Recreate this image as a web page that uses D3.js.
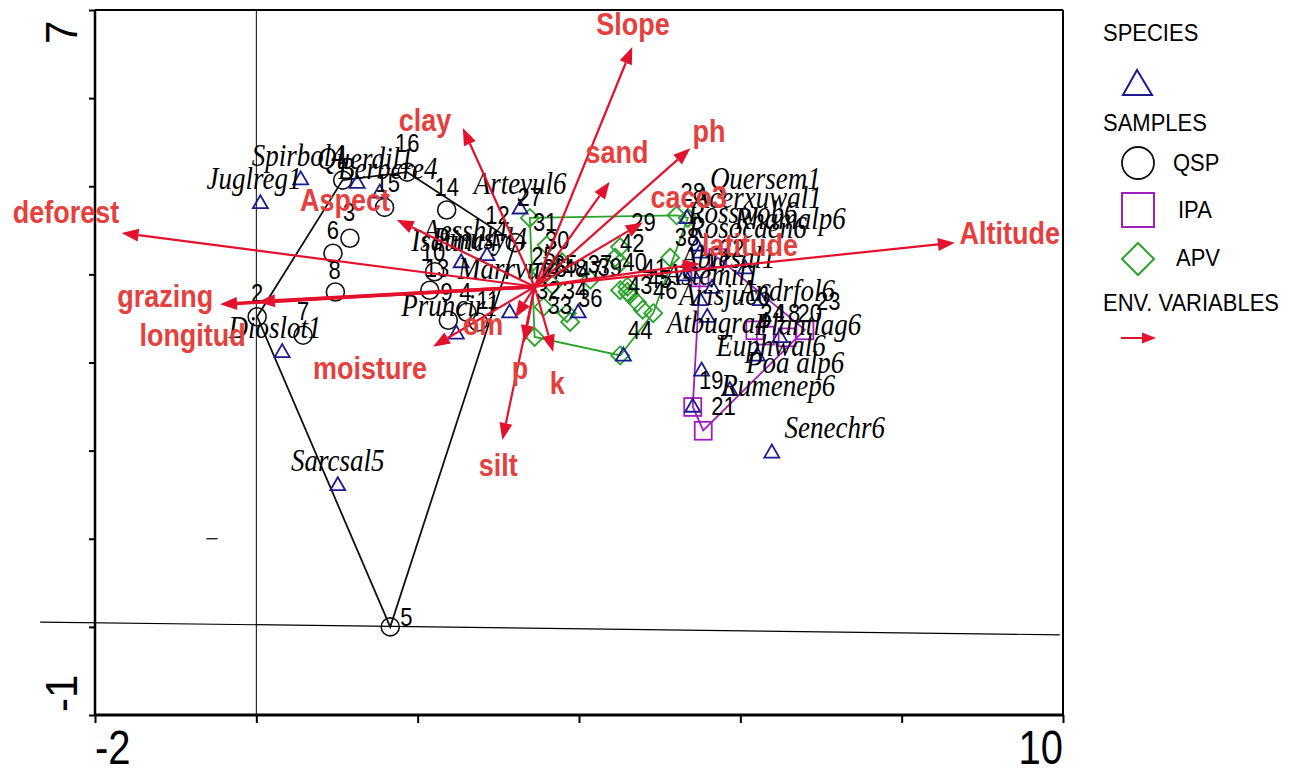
<!DOCTYPE html>
<html><head><meta charset="utf-8">
<script src="https://cdn.jsdelivr.net/npm/d3@7"></script>
<style>body{margin:0;background:#fff} svg{display:block}</style>
</head><body>
<svg id="c" width="1312" height="773"></svg>
<script>
// ---------- data ----------
const xTicks = [-2, 0, 2, 4, 6, 8, 10];
const yTicks = [-1, 0, 1, 2, 3, 4, 5, 6, 7];
const xTickLabels = ["-2", "10"];
const yTickLabels = ["-1", "7"];

const envOrigin = [3.45, 3.86];
const envNames  = ["Slope","clay","sand","ph","caco3","latitude","Altitude","deforest","Aspect","grazing","longitud","moisture","om","p","silt","k"];
const envX      = [4.66, 2.56, 4.38, 5.38, 4.79, 5.50, 8.66, -1.67, 1.74, -0.45, 0.02, 2.19, 3.21, 3.32, 3.05, 3.68];
const envY      = [6.58, 5.66, 5.05, 5.43, 4.59, 4.12, 4.36, 4.47, 4.62, 3.66, 3.69, 3.18, 3.51, 3.23, 2.12, 3.12];
const envLabelX = [4.67, 2.09, 4.47, 5.61, 5.36, 6.12, 9.34, -2.36, 1.10, -1.13, -0.79, 1.41, 2.81, 3.27, 3.00, 3.73];
const envLabelY = [6.84, 5.75, 5.39, 5.63, 4.87, 4.33, 4.47, 4.70, 4.84, 3.75, 3.31, 2.94, 3.43, 2.94, 1.84, 2.77];

const speciesNames  = ["Juglreg1","Spirbol4","Querdil1","Berbcre4","Dioslot1","Sarcsal5","Pruncir1","Aesshi4","Isatinc4","Pinusyl4","Marrvul4","Arteyul6","","Quersem1","Acerxuwal1","Rosswob6","Rosocaen6","Rhamalp6","Abiesal1","Astemil1","Arisjuc6","Andrfol6","Atbugra4","Plantlag6","Euphwal6","Poa alp6","Rumenep6","Senechr6",""];
const speciesX      = [0.05, 0.55, 1.25, 1.53, 0.32, 1.01, 2.48, 2.54, 2.86, 3.14, 3.99, 3.27, 4.55, 5.34, 5.46, 5.31, 5.50, 6.06, 5.65, 5.40, 5.50, 6.25, 5.59, 6.49, 6.21, 5.87, 5.52, 6.39, 5.41];
const speciesY      = [4.81, 5.08, 5.04, 4.93, 3.12, 1.61, 3.33, 4.14, 4.22, 3.57, 3.57, 4.75, 3.08, 4.64, 4.33, 3.99, 4.25, 4.07, 3.85, 4.02, 3.71, 3.71, 3.52, 3.29, 3.08, 2.69, 2.91, 1.98, 2.50];
const speciesLabelX = [-0.03, 0.52, 1.35, 1.63, 0.23, 1.01, 2.40, 2.59, 2.46, 2.77, 3.14, 3.27, null, 6.31, 6.21, 6.03, 6.09, 6.62, 5.85, 5.65, 5.81, 6.58, 5.72, 6.84, 6.38, 6.68, 6.47, 7.17, null];
const speciesLabelY = [5.09, 5.35, 5.32, 5.21, 3.40, 1.89, 3.65, 4.50, 4.39, 4.41, 4.07, 5.04, null, 5.09, 4.87, 4.71, 4.53, 4.64, 4.19, 4.00, 3.77, 3.82, 3.46, 3.43, 3.20, 3.00, 2.74, 2.26, null];

const groups = ["QSP", "IPA", "APV"];
const sampleLabels = ["1","2","3","4","5","6","7","8","9","10","11","12","13","14","15","16",
  "17","18","19","20","21","22","23","24",
  "25","26","27","28","29","30","31","32","33","34","35","36","37","38","39","40","41","42","43","44","45","46","47","48"];
const sampleGroup = ["QSP","QSP","QSP","QSP","QSP","QSP","QSP","QSP","QSP","QSP","QSP","QSP","QSP","QSP","QSP","QSP",
  "IPA","IPA","IPA","IPA","IPA","IPA","IPA","IPA",
  "APV","APV","APV","APV","APV","APV","APV","APV","APV","APV","APV","APV","APV","APV","APV","APV","APV","APV","APV","APV","APV","APV","APV","APV"];
const sampleX = [1.07, 0.01, 1.16, 2.61, 1.66, 0.95, 0.58, 0.98, 2.38, 2.21, 2.75, 3.21, 2.15, 2.36, 1.59, 1.87,
  5.50, 6.31, 5.41, 6.58, 5.54, 5.72, 6.80, 6.18,
  3.53, 3.67, 3.39, 5.35, 5.21, 3.79, 3.60, 3.56, 3.85, 3.89, 3.45, 4.14, 4.60, 5.13, 4.51, 4.45, 4.51, 4.51, 4.60, 4.51, 4.63, 4.72, 4.79, 4.92];
const sampleY = [5.07, 3.52, 4.41, 3.57, 0.00, 4.24, 3.31, 3.80, 3.48, 4.03, 3.46, 4.36, 3.82, 4.73, 4.76, 5.16,
  3.97, 3.31, 2.50, 3.29, 2.23, 4.19, 3.37, 3.37,
  4.03, 3.88, 4.64, 4.64, 4.67, 4.14, 4.33, 3.63, 3.56, 3.46, 3.29, 3.94, 3.80, 4.19, 3.82, 4.19, 4.13, 4.31, 3.86, 3.08, 3.77, 3.68, 3.60, 3.56];
const sampleLabelX = [1.07, 0.01, 1.15, 2.59, 1.86, 0.95, 0.58, 0.97, 2.36, 2.19, 2.87, 2.99, 2.24, 2.36, 1.63, 1.87,
  5.72, 6.59, 5.64, 6.86, 5.79, 5.90, 7.09, 6.40,
  3.56, 3.70, 3.39, 5.41, 4.80, 3.73, 3.58, 3.62, 3.76, 3.95, 3.83, 4.14, 4.26, 5.34, 4.38, 4.69, 4.94, 4.66, 4.76, 4.76, 5.00, 5.07, 4.14, 3.95];
const sampleLabelY = [5.35, 3.79, 4.70, 3.80, 0.11, 4.50, 3.58, 4.05, 3.80, 4.25, 3.71, 4.67, 4.07, 4.99, 5.04, 5.49,
  4.14, 3.56, 2.80, 3.56, 2.50, 4.30, 3.69, 3.56,
  4.21, 4.07, 4.87, 4.93, 4.59, 4.39, 4.59, 3.82, 3.65, 3.82, 4.11, 3.73, 4.11, 4.42, 4.08, 4.14, 4.07, 4.35, 3.88, 3.37, 3.94, 3.82, 4.05, 4.07];

// ---------- drawing ----------
const svg = d3.select("#c");
const X = d3.scaleLinear().domain([-2, 10]).range([95, 1063]);
const Y = d3.scaleLinear().domain([-1, 7]).range([715, 10]);

const C_TRI = "#1b1b8f", C_QSP = "#111", C_IPA = "#a01fba", C_APV = "#2aa32a";
const C_ARROW = "#e3112d", C_ELAB = "#e4403e";
const groupColor = {QSP: C_QSP, IPA: C_IPA, APV: C_APV};
const SANS = "'Liberation Sans', Arial, sans-serif";
const SERIF = "'Liberation Serif', 'Times New Roman', serif";
const STRETCH = 1.14; // the original's lettering is vertically tall

// text helper: centred, slightly stretched vertically
function label(parent, x, y, t, o) {
  const el = parent.append("text")
    .attr("transform", `translate(${x},${y}) scale(1,${o.sy ?? STRETCH})`)
    .attr("dy", o.dy ?? "0.35em")
    .attr("text-anchor", o.anchor || "middle")
    .attr("font-family", o.family || SANS)
    .attr("font-size", o.size)
    .attr("fill", o.fill || "#000")
    .text(t);
  if (o.italic) el.attr("font-style", "italic");
  if (o.bold) el.attr("font-weight", "bold");
  return el;
}

// zero lines
svg.append("line").attr("x1", X(0)).attr("x2", X(0)).attr("y1", Y(7)).attr("y2", Y(-1))
  .attr("stroke", "#000").attr("stroke-width", 1);
svg.append("line").attr("x1", X(-2.68)).attr("y1", Y(0.055)).attr("x2", X(9.96)).attr("y2", Y(-0.09))
  .attr("stroke", "#000").attr("stroke-width", 1.2);
svg.append("line").attr("x1", X(-0.62)).attr("x2", X(-0.48)).attr("y1", Y(1)).attr("y2", Y(1))
  .attr("stroke", "#000").attr("stroke-width", 1.2);

// axes
const gx = svg.append("g").attr("transform", `translate(0,${Y(-1)})`)
  .call(d3.axisBottom(X).tickValues(xTicks).tickSize(8).tickFormat(""));
gx.select(".domain").remove();
gx.selectAll(".tick line").attr("stroke", "#000").attr("stroke-width", 2);
const gy = svg.append("g").attr("transform", `translate(${X(-2)},0)`)
  .call(d3.axisLeft(Y).tickValues(yTicks).tickSize(6).tickFormat(""));
gy.select(".domain").remove();
gy.selectAll(".tick line").attr("stroke", "#000").attr("stroke-width", 2);

// frame
const frame = [[X(-2), Y(7), X(10), Y(7), 2], [X(10), Y(7), X(10), Y(-1), 2],
               [X(-2), Y(7), X(-2), Y(-1), 2.5], [X(-2), Y(-1), X(10), Y(-1), 3]];
frame.forEach(f => svg.append("line").attr("x1", f[0]).attr("y1", f[1]).attr("x2", f[2]).attr("y2", f[3])
  .attr("stroke", "#000").attr("stroke-width", f[4]));

// tick labels
label(svg, X(-2), 764, xTickLabels[0], {size: 40, anchor: "start", dy: 0, sy: 1.2});
label(svg, X(10), 764, xTickLabels[1], {size: 40, anchor: "end", dy: 0, sy: 1.2});
svg.append("text").attr("transform", `translate(77,${Y(-1) - 3}) rotate(-90) scale(1.05,1.1)`).attr("text-anchor", "start")
  .attr("font-family", SANS).attr("font-size", 40).text(yTickLabels[0]);
svg.append("text").attr("transform", `translate(77,${Y(7) + 34}) rotate(-90) scale(1.05,1.1)`).attr("text-anchor", "start")
  .attr("font-family", SANS).attr("font-size", 40).text(yTickLabels[1]);

// hulls
const samples = sampleLabels.map((l, i) => ({label: l, g: sampleGroup[i], x: sampleX[i], y: sampleY[i], lx: sampleLabelX[i], ly: sampleLabelY[i]}));
groups.forEach(g => {
  const pts = samples.filter(s => s.g === g).map(s => [X(s.x), Y(s.y)]);
  const hull = d3.polygonHull(pts);
  svg.append("path").attr("d", "M" + hull.join("L") + "Z")
    .attr("fill", "none").attr("stroke", groupColor[g]).attr("stroke-width", 1.8);
});

// symbols
function triPath(cx, cy, w, h) {
  return `M${cx},${cy - h * 0.6}L${cx - w / 2},${cy + h * 0.4}L${cx + w / 2},${cy + h * 0.4}Z`;
}
function drawSample(g, cx, cy) {
  if (g === "QSP") {
    svg.append("circle").attr("cx", cx).attr("cy", cy).attr("r", 9)
      .attr("fill", "none").attr("stroke", C_QSP).attr("stroke-width", 1.6);
  } else if (g === "IPA") {
    const s = 17;
    svg.append("rect").attr("x", cx - s / 2).attr("y", cy - s / 2).attr("width", s).attr("height", s * 1.05)
      .attr("fill", "none").attr("stroke", C_IPA).attr("stroke-width", 1.8);
  } else {
    const h = 9;
    svg.append("path").attr("d", `M${cx},${cy - h}L${cx + h},${cy}L${cx},${cy + h}L${cx - h},${cy}Z`)
      .attr("fill", "none").attr("stroke", C_APV).attr("stroke-width", 1.8);
  }
}
samples.forEach(s => drawSample(s.g, X(s.x), Y(s.y)));

speciesNames.forEach((n, i) => {
  svg.append("path").attr("d", triPath(X(speciesX[i]), Y(speciesY[i]), 15, 13))
    .attr("fill", "none").attr("stroke", C_TRI).attr("stroke-width", 1.8);
});

// labels
speciesNames.forEach((n, i) => {
  if (!n) return;
  label(svg, X(speciesLabelX[i]), Y(speciesLabelY[i]), n, {size: 27, family: SERIF, italic: true});
});
samples.forEach(s => label(svg, X(s.lx), Y(s.ly), s.label, {size: 22}));

// env arrows
const thick = new Set(["grazing", "longitud"]);
function arrow(x1, y1, x2, y2, w, hl, hw) {
  const a = Math.atan2(y2 - y1, x2 - x1);
  const bx = x2 - hl * Math.cos(a), by = y2 - hl * Math.sin(a);
  svg.append("line").attr("x1", x1).attr("y1", y1).attr("x2", bx).attr("y2", by)
    .attr("stroke", C_ARROW).attr("stroke-width", w);
  const px = -Math.sin(a) * hw, py = Math.cos(a) * hw;
  svg.append("path").attr("d", `M${x2},${y2}L${bx + px},${by + py}L${bx - px},${by - py}Z`)
    .attr("fill", C_ARROW);
}
envNames.forEach((n, i) => {
  arrow(X(envOrigin[0]), Y(envOrigin[1]), X(envX[i]), Y(envY[i]), thick.has(n) ? 3.5 : 2.2, 17, 6.5);
});
envNames.forEach((n, i) => {
  label(svg, X(envLabelX[i]), Y(envLabelY[i]), n, {size: 27, bold: true, fill: C_ELAB});
});

// legend
const lg = svg.append("g");
const ltext = (x, y, t) => label(lg, x, y, t, {size: 22, anchor: "start", dy: "0.36em", sy: 1.1});
ltext(1103, 32, "SPECIES");
lg.append("path").attr("d", "M1137,70L1123,95L1152,95Z").attr("fill", "none").attr("stroke", C_TRI).attr("stroke-width", 2);
ltext(1103, 122, "SAMPLES");
lg.append("circle").attr("cx", 1138).attr("cy", 163).attr("r", 16).attr("fill", "none").attr("stroke", C_QSP).attr("stroke-width", 1.8);
ltext(1173, 162, groups[0]);
lg.append("rect").attr("x", 1122).attr("y", 193).attr("width", 32).attr("height", 34).attr("fill", "none").attr("stroke", C_IPA).attr("stroke-width", 2);
ltext(1178, 209, groups[1]);
lg.append("path").attr("d", "M1138,243L1154,259L1138,275L1122,259Z").attr("fill", "none").attr("stroke", C_APV).attr("stroke-width", 2);
ltext(1176, 257, groups[2]);
ltext(1103, 302, "ENV. VARIABLES");
lg.append("line").attr("x1", 1121).attr("y1", 338).attr("x2", 1143).attr("y2", 338).attr("stroke", C_ARROW).attr("stroke-width", 2);
lg.append("path").attr("d", "M1156,338L1142,332.5L1142,343.5Z").attr("fill", C_ARROW);
</script>
</body></html>
